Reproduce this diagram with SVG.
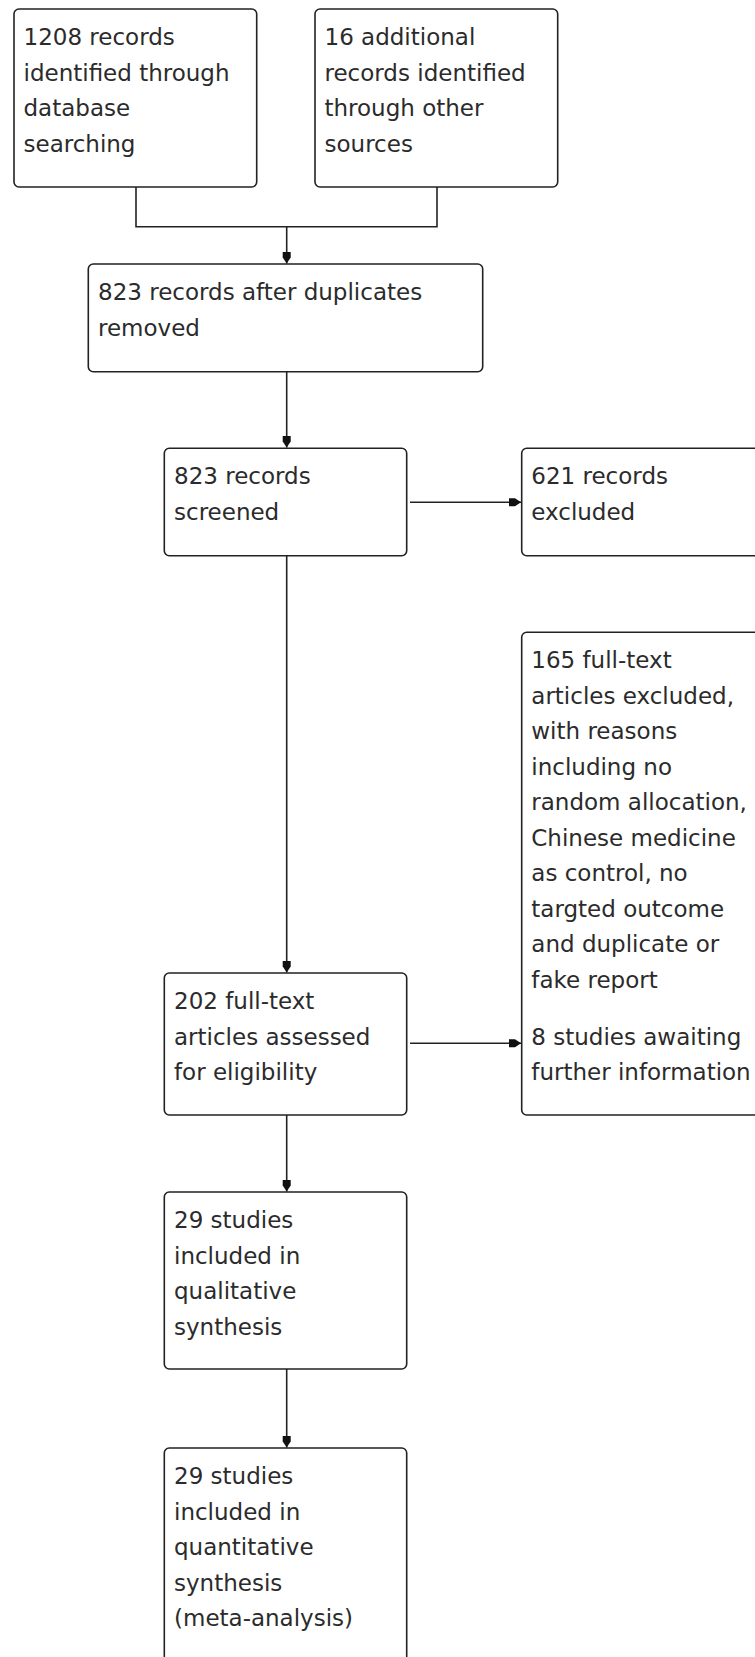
<svg xmlns="http://www.w3.org/2000/svg" width="755" height="1657" viewBox="0 0 755 1657">
<style>
.box{fill:#fff;stroke:#222;stroke-width:1.6}
.t{font-family:"DejaVu Sans",Verdana,sans-serif;font-size:23px;fill:#2b2b2b}
.c{fill:none;stroke:#222;stroke-width:1.6}
</style>
<defs>
<marker id="ah" markerUnits="userSpaceOnUse" markerWidth="13" markerHeight="10" refX="12" refY="5" orient="auto">
<path d="M0,1 L6,1 L12,5 L6,9 L0,9 Z" fill="#111"/>
</marker>
</defs>
<rect width="755" height="1657" fill="#fff"/>
<g id="connectors">
<path class="c" d="M136,187 V226.7 H437 V187"/>
<path class="c" d="M286.7,226.7 V263.5" marker-end="url(#ah)"/>
<path class="c" d="M286.7,371.7 V447.5" marker-end="url(#ah)"/>
<path class="c" d="M410,502.3 H521" marker-end="url(#ah)"/>
<path class="c" d="M286.7,555.7 V972.5" marker-end="url(#ah)"/>
<path class="c" d="M410,1043.3 H521" marker-end="url(#ah)"/>
<path class="c" d="M286.7,1115 V1191.5" marker-end="url(#ah)"/>
<path class="c" d="M286.7,1369 V1447.5" marker-end="url(#ah)"/>
</g>
<g id="n1">
<rect class="box" x="14" y="9" width="242.7" height="178" rx="5"/>
<text class="t" x="23.5"><tspan x="23.5" y="45">1208 records</tspan><tspan x="23.5" y="80.5">identified through</tspan><tspan x="23.5" y="116">database</tspan><tspan x="23.5" y="151.5">searching</tspan></text>
</g>
<g id="n2">
<rect class="box" x="315" y="9" width="242.7" height="178" rx="5"/>
<text class="t"><tspan x="324.5" y="45">16 additional</tspan><tspan x="324.5" y="80.5">records identified</tspan><tspan x="324.5" y="116">through other</tspan><tspan x="324.5" y="151.5">sources</tspan></text>
</g>
<g id="n3">
<rect class="box" x="88.3" y="264" width="394.4" height="107.7" rx="5"/>
<text class="t"><tspan x="98" y="300">823 records after duplicates</tspan><tspan x="98" y="335.5">removed</tspan></text>
</g>
<g id="n4">
<rect class="box" x="164.3" y="448.3" width="242.4" height="107.4" rx="5"/>
<text class="t"><tspan x="174" y="484.3">823 records</tspan><tspan x="174" y="519.8">screened</tspan></text>
</g>
<g id="n5">
<rect class="box" x="521.7" y="448.3" width="245" height="107.4" rx="5"/>
<text class="t"><tspan x="531.3" y="484.3">621 records</tspan><tspan x="531.3" y="519.8">excluded</tspan></text>
</g>
<g id="n6">
<rect class="box" x="521.7" y="632.3" width="245" height="482.7" rx="5"/>
<text class="t"><tspan x="531.3" y="668.3">165 full-text</tspan><tspan x="531.3" y="703.8">articles excluded,</tspan><tspan x="531.3" y="739.3">with reasons</tspan><tspan x="531.3" y="774.8">including no</tspan><tspan x="531.3" y="810.3">random allocation,</tspan><tspan x="531.3" y="845.8">Chinese medicine</tspan><tspan x="531.3" y="881.3">as control, no</tspan><tspan x="531.3" y="916.8">targted outcome</tspan><tspan x="531.3" y="952.3">and duplicate or</tspan><tspan x="531.3" y="987.8">fake report</tspan><tspan x="531.3" y="1044.5">8 studies awaiting</tspan><tspan x="531.3" y="1080">further information</tspan></text>
</g>
<g id="n7">
<rect class="box" x="164.3" y="973" width="242.4" height="142" rx="5"/>
<text class="t"><tspan x="174" y="1009">202 full-text</tspan><tspan x="174" y="1044.5">articles assessed</tspan><tspan x="174" y="1080">for eligibility</tspan></text>
</g>
<g id="n8">
<rect class="box" x="164.3" y="1192" width="242.4" height="177" rx="5"/>
<text class="t"><tspan x="174" y="1228">29 studies</tspan><tspan x="174" y="1263.5">included in</tspan><tspan x="174" y="1299">qualitative</tspan><tspan x="174" y="1334.5">synthesis</tspan></text>
</g>
<g id="n9">
<rect class="box" x="164.3" y="1448" width="242.4" height="230" rx="5"/>
<text class="t"><tspan x="174" y="1484">29 studies</tspan><tspan x="174" y="1519.5">included in</tspan><tspan x="174" y="1555">quantitative</tspan><tspan x="174" y="1590.5">synthesis</tspan><tspan x="174" y="1626">(meta-analysis)</tspan></text>
</g>
</svg>
